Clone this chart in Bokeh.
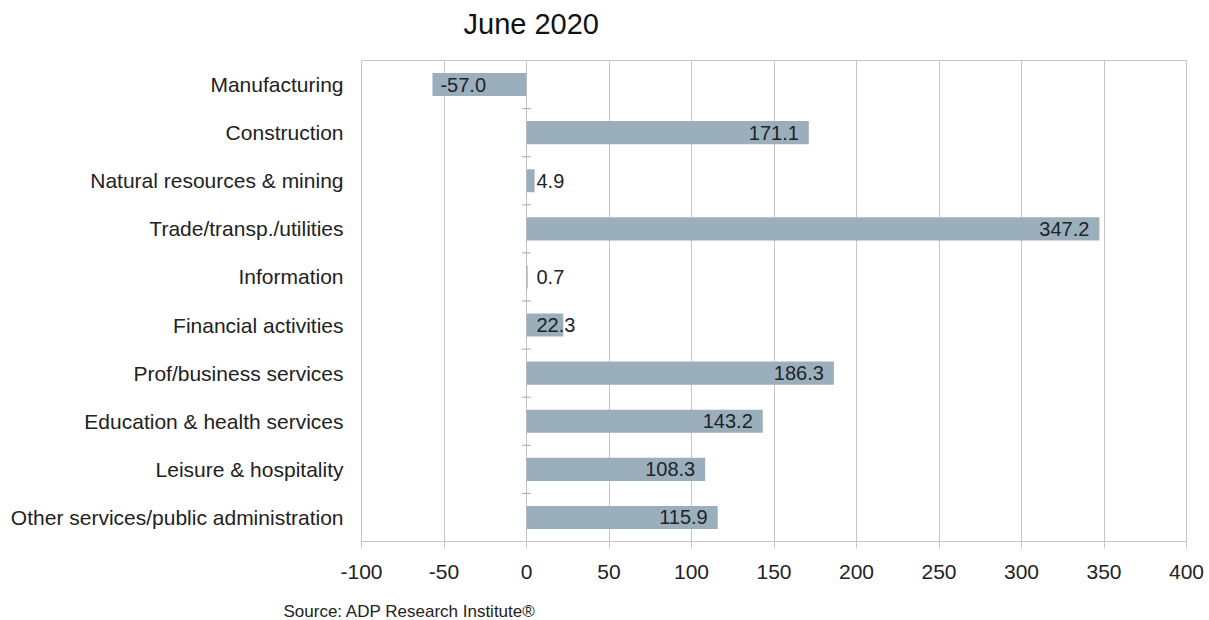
from bokeh.plotting import figure
from bokeh.models import ColumnDataSource, Range1d, FixedTicker, Title
from bokeh.embed import file_html
from bokeh.resources import INLINE

# ---- data ----
categories = [
    "Manufacturing",
    "Construction",
    "Natural resources & mining",
    "Trade/transp./utilities",
    "Information",
    "Financial activities",
    "Prof/business services",
    "Education & health services",
    "Leisure & hospitality",
    "Other services/public administration",
]
values = [-57.0, 171.1, 4.9, 347.2, 0.7, 22.3, 186.3, 143.2, 108.3, 115.9]
x_ticks = [-100, -50, 0, 50, 100, 150, 200, 250, 300, 350, 400]
x_tick_labels = ["-100", "-50", "0", "50", "100", "150", "200", "250", "300", "350", "400"]
title_text = "June 2020"
source_text = "Source: ADP Research Institute\u00ae"

FONT = "Liberation Sans"
BAR = "#9AAFBB"
GRID = "#C6C6C6"

n = len(categories)
ypos = [n - 1 - i for i in range(n)]
x_lo, x_hi = x_ticks[0], x_ticks[-1]
y_lo, y_hi = -0.5, n - 0.5

p = figure(
    width=1209, height=620,
    x_range=Range1d(x_lo, x_hi), y_range=Range1d(y_lo, y_hi),
    output_backend="svg", toolbar_location=None,
    min_border_left=361, min_border_top=60, min_border_right=23, min_border_bottom=79,
)

# spacer + title above (panels stack outward from the frame)
p.add_layout(Title(text=" ", text_font_size="1px", standoff=18), "above")
p.add_layout(Title(text=title_text, align="left", offset=102, standoff=0,
                   text_font=FONT, text_font_size="29px", text_font_style="normal",
                   text_color="#111111"), "above")
# spacer + source note below the x axis
p.add_layout(Title(text=" ", text_font_size="1px", standoff=15), "below")
p.add_layout(Title(text=source_text, align="left", offset=-78, standoff=0,
                   text_font=FONT, text_font_size="17px", text_font_style="normal",
                   text_color="#222222"), "below")

src = ColumnDataSource(dict(y=ypos, v=values))
p.hbar(y="y", left=0, right="v", height=0.48, source=src,
       fill_color=BAR, line_color=None)

# boundary tick marks on the zero line
bounds = [k + 0.5 for k in range(n - 1)]
p.scatter(x=[0] * len(bounds), y=bounds, marker="dash", size=9,
          line_color="#A8A8A8", line_width=1)

# value labels (Excel "inside end"; overflowing labels start at the base)
scale = 825 / 500.0
lab_x, lab_txt, lab_align, lab_off = [], [], [], []
for v in values:
    txt = f"{v:.1f}"
    width_px = abs(v) * scale
    if width_px > 50:
        lab_x.append(v)
        if v < 0:
            lab_align.append("left"); lab_off.append(8)
        else:
            lab_align.append("right"); lab_off.append(-10)
    else:
        lab_x.append(0); lab_align.append("left"); lab_off.append(10)
    lab_txt.append(txt)
lsrc = ColumnDataSource(dict(x=lab_x, y=ypos, t=lab_txt, a=lab_align, o=lab_off))
p.text(x="x", y="y", text="t", text_align="a", x_offset="o", source=lsrc,
       text_baseline="middle", text_font={"value": FONT}, text_font_size="20px",
       text_color="#1E2328")

# axes
p.xaxis.ticker = FixedTicker(ticks=x_ticks)
p.xaxis.major_label_overrides = {t: l for t, l in zip(x_ticks, x_tick_labels)}
p.xaxis.axis_line_color = GRID
p.xaxis.major_tick_line_color = GRID
p.xaxis.major_tick_out = 7
p.xaxis.major_tick_in = 0
p.xaxis.minor_tick_line_color = None
p.xaxis.major_label_standoff = 16
p.xaxis.major_label_text_font = FONT
p.xaxis.major_label_text_font_size = "21px"
p.xaxis.major_label_text_color = "#222222"

p.yaxis.ticker = FixedTicker(ticks=ypos)
p.yaxis.major_label_overrides = {y: c for y, c in zip(ypos, categories)}
p.yaxis.axis_line_color = None
p.yaxis.major_tick_line_color = None
p.yaxis.minor_tick_line_color = None
p.yaxis.major_label_standoff = 12
p.yaxis.major_label_text_font = FONT
p.yaxis.major_label_text_font_size = "21px"
p.yaxis.major_label_text_color = "#222222"

p.xgrid.grid_line_color = GRID
p.ygrid.grid_line_color = None
p.outline_line_color = GRID
p.outline_line_width = 1
p.background_fill_color = "white"
p.border_fill_color = "white"

open("out.html", "w").write(file_html(p, INLINE))
